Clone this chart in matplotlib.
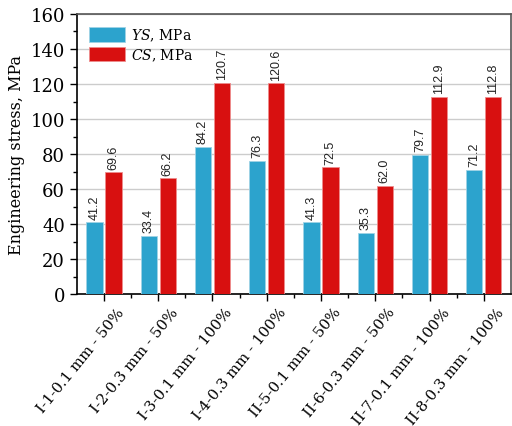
import numpy as np
import matplotlib
matplotlib.use("Agg")
import matplotlib.pyplot as plt
from matplotlib.ticker import MultipleLocator

samples = ["I-1-0.1 mm - 50%", "I-2-0.3 mm - 50%", "I-3-0.1 mm - 100%", "I-4-0.3 mm - 100%",
           "II-5-0.1 mm - 50%", "II-6-0.3 mm - 50%", "II-7-0.1 mm - 100%", "II-8-0.3 mm - 100%"]
ys_vals = [41.2, 33.4, 84.2, 76.3, 41.3, 35.3, 79.7, 71.2]
cs_vals = [69.6, 66.2, 120.7, 120.6, 72.5, 62.0, 112.9, 112.8]

plt.rcParams["font.family"] = "DejaVu Serif"
plt.rcParams["mathtext.fontset"] = "dejavuserif"

fig = plt.figure(figsize=(5.12, 4.27), dpi=100)
ax = fig.add_axes([0.150, 0.308, 0.848, 0.657])

x = np.arange(len(samples))
w = 0.3
blue, red = "#2CA3CD", "#D81010"
b1 = ax.bar(x - 0.175, ys_vals, w, color=blue, edgecolor="#9fd3e6", linewidth=0.6,
            label="$\\it{YS}$, MPa", zorder=3)
b2 = ax.bar(x + 0.175, cs_vals, w, color=red, edgecolor="#ee8c8c", linewidth=0.6,
            label="$\\it{CS}$, MPa", zorder=3)

# value labels above every bar
for bars, vals in ((b1, ys_vals), (b2, cs_vals)):
    for bar, v in zip(bars, vals):
        ax.annotate(f"{v:.1f}", (bar.get_x() + bar.get_width() / 2, v),
                    xytext=(0, 2.5), textcoords="offset points",
                    rotation=90, ha="center", va="bottom", fontsize=9,
                    family="Liberation Sans", color="#222222")

ax.set_xlim(-0.5, 7.5)
ax.set_ylim(0, 160)
ax.yaxis.set_major_locator(MultipleLocator(20))
ax.yaxis.set_minor_locator(MultipleLocator(10))
ax.set_xticks(x)
ax.set_xticks(x[:-1] + 0.5, minor=True)
ax.set_xticklabels([])
# slanted category labels, anchored a little right of each tick
for xi, name in zip(x, samples):
    ax.annotate(name, (xi, 0), xycoords=ax.get_xaxis_transform(),
                xytext=(12.5, -10.5), textcoords="offset points",
                rotation=51, ha="right", va="center", rotation_mode="anchor",
                fontsize=10.7, annotation_clip=False)
ax.tick_params(axis="y", labelsize=13)
ax.tick_params(which="major", length=5, width=1, direction="out")
ax.tick_params(which="minor", length=3, width=1, direction="out")
ax.grid(axis="y", color="#cccccc", linewidth=1, zorder=0)
ax.set_ylabel("Engineering stress, MPa", fontsize=11.5)

for side in ("top", "right"):
    ax.spines[side].set_color("#555555")
for sp in ax.spines.values():
    sp.set_linewidth(1.2)

ax.legend(loc="upper left", fontsize=10, frameon=False, handlelength=2.6,
          handleheight=1.2, handletextpad=0.4, borderaxespad=0.5, labelspacing=0.25)

fig.savefig("out.png", dpi=100)
